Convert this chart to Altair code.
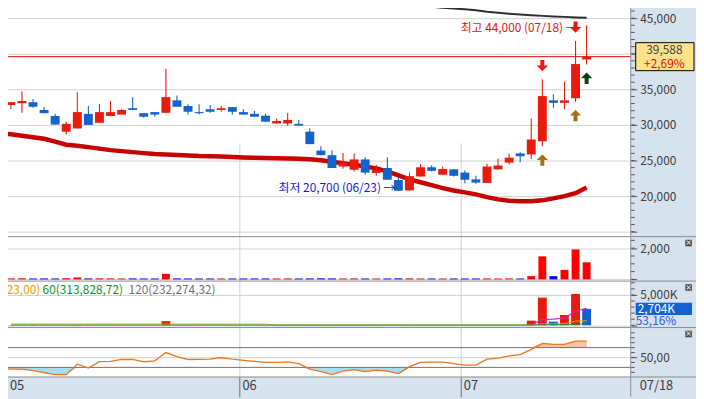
import altair as alt
import pandas as pd

# ---------------- data ----------------
idx = list(range(53))
opens = [32800, 33050, 33200, 32100, 31250, 29050, 29500, 31550, 30300, 31250,
         31450, 32350, 31650, 31800, 31700, 33450, 32650, 31800, 32200, 32100,
         32500, 31800, 31550, 31300, 30200, 30200, 30150, 29050, 26400, 25750,
         24150, 23700, 25150, 23250, 23950, 22250, 20800, 22750, 24050, 23000,
         23750, 23300, 22350, 21850, 23750, 24700, 26000, 25850, 27700, 33450,
         33100, 33750, 39200]
highs = [33200, 34700, 33650, 32500, 31550, 30450, 34600, 32650, 32950, 33350,
         32200, 33900, 31650, 31800, 37900, 34150, 32900, 32900, 32800, 32650,
         32500, 32200, 31950, 31550, 30850, 31650, 30700, 29500, 27000, 26400,
         26050, 26000, 25450, 24400, 25450, 22700, 23300, 24500, 24350, 24150,
         23800, 23600, 22850, 24550, 25250, 25950, 26150, 30900, 36400, 34300,
         36100, 41800, 44000]
lows = [32250, 31700, 32400, 31600, 30050, 28650, 29500, 30000, 30300, 31250,
        31450, 32100, 31000, 31150, 31700, 32550, 31450, 31450, 31700, 31850,
        31450, 31450, 31150, 30450, 30200, 29900, 29900, 27300, 25750, 23950,
        23850, 23450, 23000, 22850, 22300, 20700, 20750, 22750, 23450, 23000,
        22750, 21800, 21750, 21850, 23750, 24450, 24750, 25200, 27000, 32400,
        32200, 33250, 38500]
closes = [33200, 33350, 32550, 31650, 30050, 30150, 31800, 30000, 31800, 31800,
          32100, 32100, 31150, 31450, 33900, 32550, 31850, 31650, 31850, 32350,
          31850, 31450, 31150, 30450, 30550, 30700, 29900, 27300, 25750, 23950,
          24700, 25150, 23300, 23700, 22300, 20750, 22800, 24050, 23550, 23800,
          22850, 22300, 21900, 24150, 24300, 25400, 25600, 27950, 34050, 33100,
          33450, 38550, 39588]

ma_long_idx = list(range(-1, 53))
ma_long = [28850, 28680, 28472, 28264, 28055, 27639, 27222, 27083, 26875, 26667, 26458,
           26319, 26180, 26041, 25903, 25833, 25764, 25694, 25625, 25597, 25555,
           25486, 25417, 25375, 25347, 25319, 25278, 25250, 25180, 25041, 24819,
           24625, 24403, 24166, 23888, 23472, 22916, 22361, 21944, 21527, 21111,
           20792, 20514, 20236, 19861, 19542, 19347, 19264, 19264, 19403, 19680,
           20000, 20416, 21208]

ma_top_idx = list(range(30, 53))
ma_top = [47639, 47500, 47361, 47222, 47083, 46944, 46805, 46736, 46597, 46458,
          46347, 46250, 46111, 45903, 45764, 45625, 45514, 45417, 45319, 45236,
          45180, 45097, 45042]

vol1 = [65, 70, 60, 65, 60, 70, 125, 65, 70, 65, 60, 65, 60, 60, 360, 65, 60, 60,
        60, 60, 60, 60, 60, 60, 60, 65, 60, 65, 70, 65, 60, 65, 60, 60, 60, 70, 70,
        60, 60, 60, 60, 60, 60, 65, 60, 65, 60, 210, 1475, 210, 610, 1920, 1095]

vol2 = [35, 40, 30, 25, 30, 35, 60, 30, 35, 30, 25, 30, 25, 20, 680, 40, 30, 25,
        25, 20, 25, 20, 25, 20, 25, 30, 25, 30, 35, 30, 25, 30, 25, 20, 25, 30, 35,
        25, 20, 25, 20, 25, 20, 30, 25, 30, 25, 766, 4564, 603, 1695, 5167, 2704]
vol_ma5_idx = [47, 48, 49, 50, 51, 52]
vol_ma5 = [100, 929, 1027, 1206, 2315, 2804]
vol_ma20 = [205, 204, 204, 203, 203, 202, 202, 201, 201, 200, 200, 199, 199, 198,
            198, 197, 197, 196, 196, 195, 195, 194, 194, 193, 25, 25, 24, 24, 24,
            23, 23, 23, 22, 22, 22, 22, 21, 21, 21, 21, 21, 20, 20, 20, 20, 20, 20,
            60, 230, 240, 260, 700, 750]
vol_ma60 = [40, 41, 41, 40, 40, 41, 41, 40, 40, 41, 41, 40, 40, 41, 42, 42, 41, 41,
            40, 40, 41, 41, 40, 40, 41, 41, 40, 40, 41, 41, 40, 40, 41, 41, 40, 40,
            41, 41, 40, 40, 41, 41, 40, 40, 41, 41, 40, 45, 90, 95, 110, 190, 230]

osc_idx = list(range(-1, 53))
osc = [26.5, 26.6, 26.6, 23.6, 19.6, 15.6, 15.2, 36.6, 28.6, 41.6, 42.0, 46.0, 46.0,
       41.2, 43.2, 60.0, 51.6, 46.0, 46.2, 46.6, 50.0, 46.6, 44.2, 42.0, 40.0,
       40.0, 41.2, 37.6, 26.6, 21.6, 15.6, 22.6, 25.6, 21.6, 24.6, 22.6, 17.6,
       31.6, 40.0, 40.6, 40.6, 37.6, 34.6, 34.6, 46.6, 48.6, 53.2, 56.0, 66.6,
       78.6, 76.6, 76.6, 83.2, 83.2]

month_pos = [-0.4, 20.6, 40.6]
month_lbl = ["05", "06", "07"]

sell_idx = [48, 51]
buy_idx = [48, 51, 52]
buy_col = ["#a86c12", "#a86c12", "#0f3f10"]

# ---------------- styling ----------------
RED = "#e81c0c"
BLUE = "#1462cc"
FONT = "Noto Sans CJK KR"
W, RP, H, STRIP = 638, 66, 379, 20
TOTW = W + RP

xs = alt.Scale(domain=[-0.527, 55.54], nice=False, zero=False)
xaxis = alt.Axis(values=month_pos,
                 labelExpr="datum.value < 10 ? '05' : (datum.value < 30 ? '06' : '07')",
                 grid=True, gridColor="#d2d2d2", gridWidth=1,
                 domain=False, ticks=True, tickSize=20, tickColor="#6e6e6e",
                 labelAlign="left", labelBaseline="middle", labelPadding=-11,
                 labelOffset=3, labelFont=FONT, labelFontSize=13,
                 labelColor="#3c3c3c", labelFlush=False, labelOverlap=False,
                 title=None)


def X(field="i"):
    return alt.X(f"{field}:Q", scale=xs, axis=xaxis)


def yaxis(values, expr):
    return alt.Axis(orient="right", values=values, labelExpr=expr, grid=True,
                    gridColor="#d0d0d0", gridWidth=1, domain=False, ticks=True,
                    tickSize=6, tickColor="#555555", labelPadding=3,
                    labelFont=FONT, labelFontSize=12, labelColor="#3c3c3c",
                    labelBaseline="middle", labelOverlap=False, labelFlush=False,
                    title=None)


# ---------------- main price panel ----------------
ysM = alt.Scale(domain=[14306, 47222], range=[237, 0], nice=False, zero=False)
axM = yaxis([15000, 20000, 25000, 30000, 35000, 40000, 45000],
            "(datum.value == 15000 || datum.value == 40000) ? '' : format(datum.value, ',')")


def YM(f):
    return alt.Y(f"{f}:Q", scale=ysM, axis=axM)


dfc = pd.DataFrame({"i": idx, "open": opens, "high": highs, "low": lows, "close": closes})
dfc["col"] = [RED if c >= o else BLUE for o, c in zip(opens, closes)]

wick = alt.Chart(dfc).mark_rule(strokeWidth=1.1).encode(
    x=X(), y=YM("low"), y2="high:Q", color=alt.Color("col:N", scale=None))
body = alt.Chart(dfc).mark_bar(size=9).encode(
    x=X(), y=YM("open"), y2="close:Q", color=alt.Color("col:N", scale=None))

dfma = pd.DataFrame({"i": ma_long_idx, "v": ma_long})
ma_line = alt.Chart(dfma).mark_line(color="#c80000", strokeWidth=4.5, clip=True).encode(
    x=X(), y=YM("v"))
dftop = pd.DataFrame({"i": ma_top_idx, "v": ma_top})
top_line = alt.Chart(dftop).mark_line(color="#2e2e2e", strokeWidth=2, clip=True).encode(
    x=X(), y=YM("v"))

cur = pd.DataFrame({"p": [39588]})
cur_rule = alt.Chart(cur).mark_rule(color="#e60000", strokeWidth=1).encode(y=YM("p"))

minorM = alt.Chart(pd.DataFrame({"t": list(range(15000, 47001, 1000))})).mark_rule(
    color="#555555", strokeWidth=1).encode(x=alt.value(W), x2=alt.value(W + 4), y=YM("t"))

DOWN = "M-0.35,-1 L0.35,-1 L0.35,0 L1,0 L0,1 L-1,0 L-0.35,0 Z"
UP = "M-0.35,1 L0.35,1 L0.35,0 L1,0 L0,-1 L-1,0 L-0.35,0 Z"
dfs = pd.DataFrame({"i": sell_idx, "p": [highs[k] for k in sell_idx]})
sells = alt.Chart(dfs).mark_point(shape=DOWN, filled=True, size=130, opacity=1,
                                  color="#ff1010", yOffset=-14).encode(x=X(), y=YM("p"))
dfb = pd.DataFrame({"i": buy_idx, "p": [lows[k] for k in buy_idx], "col": buy_col})
buys = alt.Chart(dfb).mark_point(shape=UP, filled=True, size=130, opacity=1,
                                 yOffset=14).encode(
    x=X(), y=YM("p"), color=alt.Color("col:N", scale=None))

hi_df = pd.DataFrame({"i": [51], "p": [44000], "t": ["최고 44,000 (07/18) →"]})
hi_txt = alt.Chart(hi_df).mark_text(align="right", baseline="middle", dx=2, dy=3,
                                    font=FONT, fontSize=12, color="#e81010").encode(
    x=X(), y=YM("p"), text="t:N")
lo_df = pd.DataFrame({"i": [35], "p": [20700], "t": ["최저 20,700 (06/23) →"]})
lo_txt = alt.Chart(lo_df).mark_text(align="right", baseline="middle", dx=-3, dy=-3,
                                    font=FONT, fontSize=12, color="#1414e6").encode(
    x=X(), y=YM("p"), text="t:N")

BOX = "M-1,-0.48 L1,-0.48 L1,0.48 L-1,0.48 Z"
pbox = alt.Chart(cur).mark_point(shape=BOX, filled=True, size=59 * 59, opacity=1,
                                 color="#fde28a", stroke="#000000", strokeWidth=1).encode(
    x=alt.value(672.5), y=YM("p"))
ptxt1 = alt.Chart(cur).mark_text(text="39,588", font=FONT, fontSize=12, color="#404040",
                                 baseline="middle", dy=-7).encode(x=alt.value(672), y=YM("p"))
ptxt2 = alt.Chart(cur).mark_text(text="+2,69%", font=FONT, fontSize=12, color="#e81010",
                                 baseline="middle", dy=7).encode(x=alt.value(672), y=YM("p"))

main = alt.layer(top_line, ma_line, cur_rule, wick, body, sells, buys, hi_txt, lo_txt,
                 minorM, pbox, ptxt1, ptxt2)

# ---------------- volume 1 (trading value) ----------------
ysV1 = alt.Scale(domain=[-108, 2741], range=[282, 237], nice=False, zero=False)
axV1 = yaxis([0, 2000], "datum.value == 2000 ? '2,000' : ''")
dfv1 = pd.DataFrame({"i": idx, "v": vol1, "z": [0] * 53})
dfv1["col"] = ["#ff0000" if c >= o else "#0000ff" for o, c in zip(opens, closes)]
v1bars = alt.Chart(dfv1).mark_bar(size=8).encode(
    x=X(), y=alt.Y("v:Q", scale=ysV1, axis=axV1), y2="z:Q",
    color=alt.Color("col:N", scale=None))
minorV1 = alt.Chart(pd.DataFrame({"t": [0, 500, 1000, 1500, 2000, 2500]})).mark_rule(
    color="#555555").encode(x=alt.value(W), x2=alt.value(W + 4),
                           y=alt.Y("t:Q", scale=ysV1, axis=axV1))
panel_v1 = alt.layer(v1bars, minorV1)

# ---------------- volume 2 (shares, K) ----------------
ysV2 = alt.Scale(domain=[-375, 7286], range=[329, 282], nice=False, zero=False)
axV2 = yaxis([0, 5000], "datum.value == 5000 ? '5,000K' : ''")


def YV2(f):
    return alt.Y(f"{f}:Q", scale=ysV2, axis=axV2)


vcol = []
for k, v in enumerate(vol2):
    prev = vol2[k - 1] if k > 0 else v
    vcol.append("#e81c0c" if v >= prev else "#1060d0")
dfv2 = pd.DataFrame({"i": idx, "v": vol2, "z": [0] * 53, "col": vcol,
                     "m20": vol_ma20, "m60": vol_ma60})
v2bars = alt.Chart(dfv2).mark_bar(size=9).encode(
    x=X(), y=YV2("v"), y2="z:Q", color=alt.Color("col:N", scale=None))
m20 = alt.Chart(dfv2).mark_line(color="#f0a000", strokeWidth=1).encode(x=X(), y=YV2("m20"))
m60 = alt.Chart(dfv2).mark_line(color="#119a3a", strokeWidth=1).encode(x=X(), y=YV2("m60"))
dfm5 = pd.DataFrame({"i": vol_ma5_idx, "v": vol_ma5})
m5 = alt.Chart(dfm5).mark_line(color="#e01cc8", strokeWidth=1.2).encode(x=X(), y=YV2("v"))
minorV2 = alt.Chart(pd.DataFrame({"t": [0, 1000, 2000, 3000, 4000, 5000, 6000, 7000]})).mark_rule(
    color="#555555").encode(x=alt.value(W), x2=alt.value(W + 4), y=YV2("t"))

leg_df = pd.DataFrame({"x": [0, 43, 130],
                       "t": ["323,00)", "60(313,828,72)", "120(232,274,32)"],
                       "c": ["#e8a000", "#109030", "#707070"]})
legend = alt.Chart(leg_df).mark_text(align="left", baseline="middle", font=FONT,
                                     fontSize=12).encode(
    x=alt.X("x:Q", scale=None), y=alt.value(291), text="t:N",
    color=alt.Color("c:N", scale=None))

vnow = pd.DataFrame({"p": [2704]})
VBOX = "M-1,-0.22 L1,-0.22 L1,0.22 L-1,0.22 Z"
vbox = alt.Chart(vnow).mark_point(shape=VBOX, filled=True, size=57 * 57, opacity=1,
                                  color="#1262d2").encode(x=alt.value(671.5), y=YV2("p"))
vtxt = alt.Chart(vnow).mark_text(text="2,704K", font=FONT, fontSize=12, color="white",
                                 baseline="middle", align="left").encode(
    x=alt.value(645), y=YV2("p"))
vtxt2 = alt.Chart(vnow).mark_text(text="53,16%", font=FONT, fontSize=12, color="#2060e0",
                                  baseline="middle", align="left", dy=12).encode(
    x=alt.value(643), y=YV2("p"))

panel_v2 = alt.layer(v2bars, m20, m60, m5, minorV2, legend, vbox, vtxt, vtxt2)

# ---------------- oscillator ----------------
ysO = alt.Scale(domain=[10.6, 110.6], range=[379, 329], nice=False, zero=False)
axO = yaxis([50], "'50,00'")


def YO(f):
    return alt.Y(f"{f}:Q", scale=ysO, axis=axO)


dfo = pd.DataFrame({"i": osc_idx, "v": osc})
low_fill = alt.Chart(dfo).transform_calculate(lo="min(datum.v, 30)", b="30").mark_area(
    color="#a8dcf0", opacity=1, clip=True).encode(x=X(), y=YO("lo"), y2="b:Q")
high_fill = alt.Chart(dfo).transform_calculate(hi="max(datum.v, 70)", b="70").mark_area(
    color="#f8c3a2", opacity=1, clip=True).encode(x=X(), y=YO("hi"), y2="b:Q")
levels = alt.Chart(pd.DataFrame({"lv": [30, 70]})).mark_rule(
    color="#707070", strokeWidth=1).encode(y=YO("lv"))
osc_line = alt.Chart(dfo).mark_line(color="#f07418", strokeWidth=1.3, clip=True).encode(
    x=X(), y=YO("v"))
minorO = alt.Chart(pd.DataFrame({"t": [20, 30, 40, 50, 60, 70, 80, 90, 100]})).mark_rule(
    color="#555555").encode(x=alt.value(W), x2=alt.value(W + 4), y=YO("t"))
panel_o = alt.layer(low_fill, high_fill, levels, osc_line, minorO)

# ---------------- chrome ----------------
one = pd.DataFrame({"a": [0]})
chrome = []
for yy in [237, 282, 329, 379]:
    chrome.append(alt.Chart(one).mark_rule(color="#8c8c8c", strokeWidth=1).encode(
        x=alt.value(0), x2=alt.value(TOTW), y=alt.value(yy)))
chrome.append(alt.Chart(one).mark_rule(color="#8c8c8c", strokeWidth=1).encode(
    x=alt.value(W), y=alt.value(0), y2=alt.value(H + STRIP)))
for yy in [243.5, 288.5, 335.5]:
    chrome.append(alt.Chart(one).mark_point(shape="square", filled=True, size=44,
                                            opacity=1, color="#4a4a4a").encode(
        x=alt.value(696.5), y=alt.value(yy)))
    chrome.append(alt.Chart(one).mark_text(text="×", fontSize=8, color="white",
                                           baseline="middle", font="DejaVu Sans").encode(
        x=alt.value(696.5), y=alt.value(yy)))
chrome.append(alt.Chart(one).mark_text(text="HC:-10,00", font=FONT, fontSize=13,
                                       color="#1e50d0", align="left",
                                       baseline="bottom").encode(
    x=alt.value(640), y=alt.value(5)))
chrome.append(alt.Chart(one).mark_text(text="07/18", font=FONT, fontSize=13,
                                       color="#3c3c3c", align="left",
                                       baseline="middle").encode(
    x=alt.value(647), y=alt.value(388)))

chart = alt.layer(main, panel_v1, panel_v2, panel_o, *chrome).resolve_scale(
    y="independent"
).properties(
    width=W, height=H,
    autosize=alt.AutoSizeParams(type="none"),
    padding={"left": -8, "top": -8, "right": RP, "bottom": STRIP},
    background="#d7e2ef",
).configure_view(fill="white", stroke=None)

chart.save("out.html", embed_options={"renderer": "svg", "actions": False})
